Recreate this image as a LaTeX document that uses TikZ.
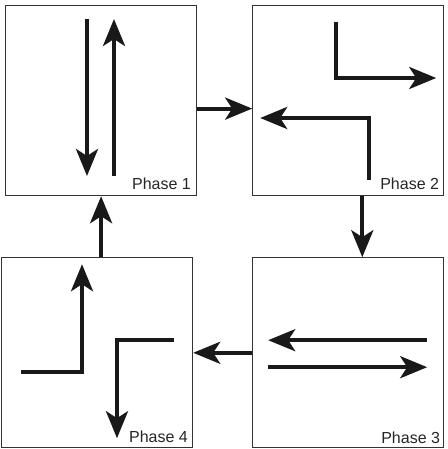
\documentclass[tikz,border=0pt]{standalone}
\usepackage{fontspec}
\setmainfont{Liberation Sans}
\usetikzlibrary{positioning,calc,arrows.meta}

\begin{document}
\begin{tikzpicture}[x=0.5pt,y=-0.5pt,
		phase/.style={draw=black!80,line width=0.6pt,minimum width=95.5pt,minimum height=95pt,inner sep=0pt},
		flow/.style={-{Stealth[length=13.5pt,width=11pt,inset=3.5pt]},line width=2pt,draw=black!90},
		tag/.style={anchor=base east,inner sep=0pt,text=black!85,font=\fontsize{8}{9.6}\selectfont}]
		\useasboundingbox (0,0) rectangle (448,449);
		\node[phase,anchor=north west] (p1) at (5,5) {};
		\node[phase,right=27.5pt of p1] (p2) {};
		\node[phase,below=30.5pt of p2] (p3) {};
		\node[phase,left=29.5pt of p3] (p4) {};
		
		\node[tag] (l1) at ($(p1.south east)+(-6,-7)$) {Phase 1};
		\node[tag] (l2) at ($(p2.south east)+(-5,-7)$) {Phase 2};
		\node[tag] (l3) at ($(p3.south east)+(-4,-5)$) {Phase 3};
		\node[tag] (l4) at ($(p4.south east)+(-5,-6)$) {Phase 4};
		
		% lanes inside each phase
		\begin{scope}[shift={(p1.north west)}]
			\draw[flow] (82,14)--(82,171);
			\draw[flow] (109,171)--(109,14);
		\end{scope}
		\begin{scope}[shift={(p2.north west)}]
			\draw[flow] (84,17)--(84,73)--(184,73);
			\draw[flow] (117,175)--(117,113)--(8,113);
		\end{scope}
		\begin{scope}[shift={(p3.north west)}]
			\draw[flow] (175,83)--(16,83);
			\draw[flow] (16,110)--(175,110);
		\end{scope}
		\begin{scope}[shift={(p4.north west)}]
			\draw[flow] (20,115)--(81,115)--(81,7);
			\draw[flow] (173,83)--(116,83)--(116,181);
		\end{scope}
		
		\draw[flow] ($(p1.east)+(0,8)$)--($(p2.west)+(0,8)$);
		\draw[flow] ($(p2.south)+(14,0)$)--($(p3.north)+(14,0)$);
		\draw[flow] (p3.west)--(p4.east);
		\draw[flow] (p1.south |- p4.north)--(p1.south);
	\end{tikzpicture}
\end{document}
